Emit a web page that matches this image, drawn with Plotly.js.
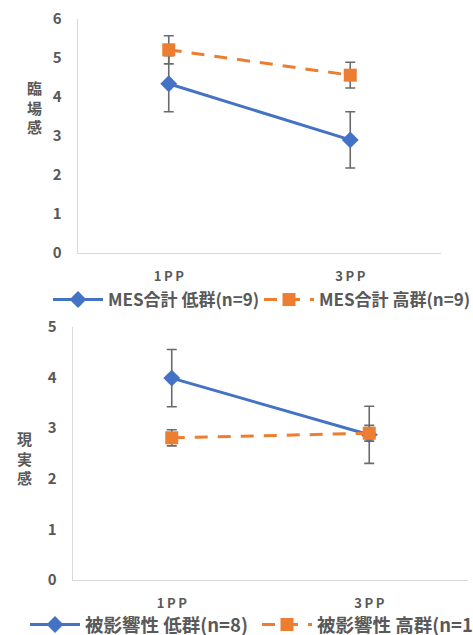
<!DOCTYPE html>
<html><head><meta charset="utf-8">
<script src="https://cdn.plot.ly/plotly-3.0.1.min.js"></script>
<style>html,body{margin:0;padding:0;background:#fff;}#chart{width:473px;height:635px;}</style>
</head><body><div id="chart"></div>
<script>
// Categories and tick labels
var categories = ["1PP", "3PP"];
var tickLabels = ["1\u2009P\u2009P", "3\u2009P\u2009P"];

// Top chart: 臨場感 (MES合計)
var topLowName = "MES合計 低群(n=9)";
var topHighName = "MES合計 高群(n=9)";
var topLowMean = [4.34, 2.90];
var topLowErr = [0.72, 0.72];
var topHighMean = [5.21, 4.56];
var topHighErr = [0.36, 0.33];

// Bottom chart: 現実感 (被影響性)
var botLowName = "被影響性 低群(n=8)";
var botHighName = "被影響性 高群(n=10)";
var botLowMean = [3.99, 2.87];
var botLowErr = [0.565, 0.565];
var botHighMean = [2.81, 2.90];
var botHighErr = [0.16, 0.155];

var BLUE = "#4472C4", ORANGE = "#ED7D31", GRAY = "#595959", ERR = "#6a6a6a";
var FONT = "'Noto Sans CJK JP', 'Noto Sans', sans-serif";

function errCfg(arr){ return {type:"data", array:arr, visible:true, color:ERR, thickness:1.6, width:5}; }

var data = [
  {x:categories, y:topLowMean, name:topLowName, type:"scatter", mode:"lines+markers",
   xaxis:"x", yaxis:"y", legend:"legend",
   line:{color:BLUE, width:3}, marker:{symbol:"diamond", size:13, color:BLUE},
   error_y:errCfg(topLowErr)},
  {x:categories, y:topHighMean, name:topHighName, type:"scatter", mode:"lines+markers",
   xaxis:"x", yaxis:"y", legend:"legend2",
   line:{color:ORANGE, width:3, dash:"13px,10px"}, marker:{symbol:"square", size:13, color:ORANGE},
   error_y:errCfg(topHighErr)},
  {x:categories, y:botLowMean, name:botLowName, type:"scatter", mode:"lines+markers",
   xaxis:"x2", yaxis:"y2", legend:"legend3",
   line:{color:BLUE, width:3}, marker:{symbol:"diamond", size:13, color:BLUE},
   error_y:errCfg(botLowErr)},
  {x:categories, y:botHighMean, name:botHighName, type:"scatter", mode:"lines+markers",
   xaxis:"x2", yaxis:"y2", legend:"legend4",
   line:{color:ORANGE, width:3, dash:"13px,10px"}, marker:{symbol:"square", size:13, color:ORANGE},
   error_y:errCfg(botHighErr)}
];

var W = 473, H = 635;
function xd(a,b){ return [a/W, b/W]; }
function yd(top,bottom){ return [1-bottom/H, 1-top/H]; }

var xCommon = {type:"category", range:[-0.5,1.5], showgrid:false, zeroline:false,
  showline:true, linecolor:"#d9d9d9", linewidth:1.3, ticks:"",
  tickvals:categories, ticktext:tickLabels, ticklabelstandoff:11,
  tickfont:{family:FONT, size:13, color:GRAY, weight:"bold"}, fixedrange:true};
var yCommon = {showgrid:false, zeroline:false, showline:true, linecolor:"#d9d9d9", linewidth:1.3,
  ticks:"", dtick:1, ticklabelstandoff:12,
  tickfont:{family:FONT, size:15, color:GRAY, weight:"bold"}, fixedrange:true};

function leg(px, py, fs){
  return {orientation:"h", x:px/W, y:1-py/H, xanchor:"left", yanchor:"middle",
    font:{family:FONT, size:fs, color:GRAY, weight:"bold"}, itemwidth:50, tracegroupgap:0, bgcolor:"rgba(0,0,0,0)"};
}

var layout = {
  width:W, height:H, margin:{l:0,r:0,t:0,b:0, autoexpand:false}, paper_bgcolor:"#fff", plot_bgcolor:"#fff",
  showlegend:true,
  xaxis:Object.assign({}, xCommon, {domain:xd(78,441), anchor:"y", automargin:false}),
  yaxis:Object.assign({}, yCommon, {domain:yd(19,253), range:[0,6], anchor:"x", automargin:false}),
  xaxis2:Object.assign({}, xCommon, {domain:xd(73,468), anchor:"y2", automargin:false}),
  yaxis2:Object.assign({}, yCommon, {domain:yd(327,580), range:[0,5], anchor:"x2", automargin:false}),
  legend:leg(48, 300, 17),
  legend2:leg(259, 300, 17),
  legend3:leg(25, 625, 18.5),
  legend4:leg(257, 625, 18.5),
  annotations:[
    {text:"臨<br>場<br>感", x:34/W, y:1-107/H, xref:"paper", yref:"paper", xanchor:"center", yanchor:"middle", showarrow:false,
     font:{family:FONT, size:15, color:GRAY, weight:"bold"}},
    {text:"現<br>実<br>感", x:24/W, y:1-458/H, xref:"paper", yref:"paper", xanchor:"center", yanchor:"middle", showarrow:false,
     font:{family:FONT, size:15, color:GRAY, weight:"bold"}}
  ]
};

Plotly.newPlot("chart", data, layout, {staticPlot:true, displayModeBar:false});
</script></body></html>
